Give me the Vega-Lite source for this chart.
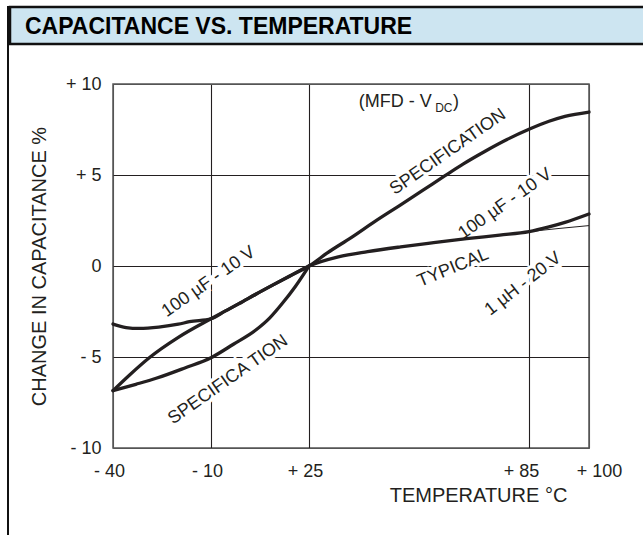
{
  "$schema": "https://vega.github.io/schema/vega-lite/v6.json",
  "padding": {"left": 7, "top": 5, "right": 0, "bottom": 0},
  "background": "white",
  "config": {"font": "Liberation Sans", "view": {"stroke": null}},
  "spacing": -3,
  "datasets": {
    "curves": [
      {"series": "spec_hi", "temp": -40, "cap": -6.85},
      {"series": "spec_hi", "temp": -35, "cap": -6.0},
      {"series": "spec_hi", "temp": -28.9, "cap": -5.04},
      {"series": "spec_hi", "temp": -20, "cap": -3.92},
      {"series": "spec_hi", "temp": -10, "cap": -2.9},
      {"series": "spec_hi", "temp": -5, "cap": -2.48},
      {"series": "spec_hi", "temp": 0, "cap": -2.07},
      {"series": "spec_hi", "temp": 6, "cap": -1.55},
      {"series": "spec_hi", "temp": 12, "cap": -1.05},
      {"series": "spec_hi", "temp": 18, "cap": -0.56},
      {"series": "spec_hi", "temp": 25, "cap": 0},
      {"series": "spec_hi", "temp": 30, "cap": 0.72},
      {"series": "spec_hi", "temp": 36.5, "cap": 1.56},
      {"series": "spec_hi", "temp": 43, "cap": 2.45},
      {"series": "spec_hi", "temp": 50, "cap": 3.36},
      {"series": "spec_hi", "temp": 56, "cap": 4.15},
      {"series": "spec_hi", "temp": 62, "cap": 4.95},
      {"series": "spec_hi", "temp": 67, "cap": 5.6},
      {"series": "spec_hi", "temp": 72.8, "cap": 6.28},
      {"series": "spec_hi", "temp": 79, "cap": 6.95},
      {"series": "spec_hi", "temp": 85, "cap": 7.51},
      {"series": "spec_hi", "temp": 90, "cap": 7.95},
      {"series": "spec_hi", "temp": 94, "cap": 8.22},
      {"series": "spec_hi", "temp": 100, "cap": 8.46},
      {"series": "typ", "temp": -40, "cap": -3.19},
      {"series": "typ", "temp": -36, "cap": -3.38},
      {"series": "typ", "temp": -32, "cap": -3.43},
      {"series": "typ", "temp": -26, "cap": -3.36},
      {"series": "typ", "temp": -20, "cap": -3.2},
      {"series": "typ", "temp": -16.6, "cap": -3.06},
      {"series": "typ", "temp": -10, "cap": -2.9},
      {"series": "typ", "temp": -5, "cap": -2.48},
      {"series": "typ", "temp": 0, "cap": -2.07},
      {"series": "typ", "temp": 6, "cap": -1.55},
      {"series": "typ", "temp": 12, "cap": -1.05},
      {"series": "typ", "temp": 18, "cap": -0.56},
      {"series": "typ", "temp": 25, "cap": 0},
      {"series": "typ", "temp": 33, "cap": 0.5},
      {"series": "typ", "temp": 41, "cap": 0.79},
      {"series": "typ", "temp": 50, "cap": 1.05},
      {"series": "typ", "temp": 59, "cap": 1.28},
      {"series": "typ", "temp": 68, "cap": 1.5},
      {"series": "typ", "temp": 77, "cap": 1.7},
      {"series": "typ", "temp": 85, "cap": 1.89},
      {"series": "typ", "temp": 90, "cap": 2.15},
      {"series": "typ", "temp": 94, "cap": 2.4},
      {"series": "typ", "temp": 100, "cap": 2.86},
      {"series": "spec_lo", "temp": -40, "cap": -6.85},
      {"series": "spec_lo", "temp": -33, "cap": -6.5},
      {"series": "spec_lo", "temp": -26.8, "cap": -6.17},
      {"series": "spec_lo", "temp": -18, "cap": -5.6},
      {"series": "spec_lo", "temp": -10, "cap": -5.04},
      {"series": "spec_lo", "temp": -2, "cap": -4.3},
      {"series": "spec_lo", "temp": 6, "cap": -3.52},
      {"series": "spec_lo", "temp": 11, "cap": -2.85},
      {"series": "spec_lo", "temp": 15.5, "cap": -2.05},
      {"series": "spec_lo", "temp": 20, "cap": -1.15},
      {"series": "spec_lo", "temp": 25, "cap": 0}
    ],
    "thin": [
      {"series": "typ_1uH", "temp": 77, "cap": 1.7},
      {"series": "typ_1uH", "temp": 85, "cap": 1.89},
      {"series": "typ_1uH", "temp": 100, "cap": 2.22}
    ],
    "labels35": [
      {"label": "100 µF - 10 V", "temp": -10.7, "cap": -0.88},
      {"label": "SPECIFICA TION", "temp": -3.9, "cap": -6.26},
      {"label": "SPECIFICATION", "temp": 62.9, "cap": 6.26},
      {"label": "100 µF - 10 V", "temp": 78.5, "cap": 3.41}
    ],
    "labelTyp": [
      {"label": "TYPICAL", "temp": 64.3, "cap": -0.11}
    ],
    "label1uH": [
      {"label": "1 µH - 20 V", "temp": 83.4, "cap": -0.99}
    ],
    "mfd": [{"label": "(MFD - V", "temp": 38.6, "cap": 8.74}],
    "mfdSub": [{"label": "DC", "temp": 59.4, "cap": 8.46}],
    "mfdEnd": [{"label": ")", "temp": 64.3, "cap": 8.74}]
  },
  "hconcat": [
    {
      "width": 0.01,
      "height": 528,
      "view": {"stroke": "#111111", "strokeWidth": 2},
      "data": {"values": []},
      "mark": "rect",
      "encoding": {}
    },
    {
      "spacing": 28,
      "vconcat": [
        {
          "width": 634,
          "height": 37,
          "view": {"fill": "#cde5f1", "stroke": "#111111", "strokeWidth": 2.5, "strokeDash": [634, 37, 671, 1]},
          "title": {
            "text": "CAPACITANCE VS. TEMPERATURE",
            "anchor": "start",
            "frame": "group",
            "orient": "top",
            "offset": -50,
            "dx": 15,
            "fontSize": 23,
            "fontWeight": 900,
            "color": "#000000",
            "baseline": "alphabetic"
          },
          "data": {"values": [{"heading": "CAPACITANCE VS. TEMPERATURE"}]},
          "mark": {"type": "rect", "opacity": 0},
          "encoding": {}
        },
        {
          "spacing": 17,
          "hconcat": [
            {
              "width": 0.01,
              "height": 1,
              "data": {"values": []},
              "mark": "rect",
              "encoding": {}
            },
            {
              "width": 476,
              "height": 364,
              "view": {"stroke": "#555555", "strokeWidth": 1.5},
              "encoding": {
                "x": {
                  "field": "temp",
                  "type": "quantitative",
                  "scale": {"domain": [-40, -10, 25, 85, 100], "range": [0, 98, 196, 416, 476], "nice": false, "zero": false},
                  "axis": {
                    "values": [-40, -10, 25, 85, 100],
                    "title": "TEMPERATURE °C",
                    "grid": true,
                    "gridColor": {"condition": {"test": "datum.value == -40 || datum.value == 100", "value": "#555555"}, "value": "#231f20"},
                    "gridWidth": 1.1,
                    "domain": false,
                    "ticks": false,
                    "tickSize": 0,
                    "labelPadding": 14,
                    "labelFontSize": 18,
                    "labelColor": "#231f20",
                    "labelFlush": false,
                    "labelOverlap": false,
                    "labelBound": false,
                    "labelExpr": "datum.value > 0 ? '+ ' + datum.value : (datum.value < 0 ? '- ' + abs(datum.value) : '0')",
                    "labelOffset": {"condition": [{"test": "datum.value == 100", "value": 10}, {"test": "datum.value == 85", "value": -8}], "value": -4},
                    "titleFontSize": 20,
                    "titleFontWeight": "normal",
                    "titleColor": "#231f20",
                    "titleX": 365,
                    "titleY": 53,
                    "titleAlign": "center",
                    "titleBaseline": "alphabetic"
                  }
                },
                "y": {
                  "field": "cap",
                  "type": "quantitative",
                  "scale": {"domain": [-10, 10], "nice": false, "zero": false},
                  "axis": {
                    "values": [-10, -5, 0, 5, 10],
                    "title": "CHANGE IN CAPACITANCE %",
                    "grid": true,
                    "gridColor": {"condition": {"test": "abs(datum.value) == 10", "value": "#555555"}, "value": "#231f20"},
                    "gridWidth": 1.1,
                    "domain": false,
                    "ticks": false,
                    "tickSize": 0,
                    "labelPadding": 12,
                    "labelFontSize": 18,
                    "labelColor": "#231f20",
                    "labelFlush": false,
                    "labelOverlap": false,
                    "labelBound": false,
                    "labelExpr": "datum.value > 0 ? '+ ' + datum.value : (datum.value < 0 ? '- ' + abs(datum.value) : '0')",
                    "titleFontSize": 20,
                    "titleFontWeight": "normal",
                    "titleColor": "#231f20",
                    "titlePadding": 16
                  }
                }
              },
              "layer": [
                {
                  "data": {"name": "labels35"},
                  "mark": {"type": "text", "angle": -35, "fontSize": 18, "align": "center", "baseline": "middle", "fill": "white", "stroke": "white", "strokeWidth": 7},
                  "encoding": {"text": {"field": "label"}}
                },
                {
                  "data": {"name": "labelTyp"},
                  "mark": {"type": "text", "angle": -22.5, "fontSize": 18, "align": "center", "baseline": "middle", "fill": "white", "stroke": "white", "strokeWidth": 7},
                  "encoding": {"text": {"field": "label"}}
                },
                {
                  "data": {"name": "label1uH"},
                  "mark": {"type": "text", "angle": -38, "fontSize": 18, "align": "center", "baseline": "middle", "fill": "white", "stroke": "white", "strokeWidth": 7},
                  "encoding": {"text": {"field": "label"}}
                },
                {
                  "data": {"name": "curves"},
                  "mark": {"type": "line", "interpolate": "monotone", "strokeWidth": 3.3, "color": "#231f20", "strokeCap": "round"},
                  "encoding": {"detail": {"field": "series"}}
                },
                {
                  "data": {"name": "thin"},
                  "mark": {"type": "line", "interpolate": "monotone", "strokeWidth": 1, "color": "#231f20"},
                  "encoding": {"detail": {"field": "series"}}
                },
                {
                  "data": {"name": "labels35"},
                  "mark": {"type": "text", "angle": -35, "fontSize": 18, "align": "center", "baseline": "middle", "color": "#231f20"},
                  "encoding": {"text": {"field": "label"}}
                },
                {
                  "data": {"name": "labelTyp"},
                  "mark": {"type": "text", "angle": -22.5, "fontSize": 18, "align": "center", "baseline": "middle", "color": "#231f20"},
                  "encoding": {"text": {"field": "label"}}
                },
                {
                  "data": {"name": "label1uH"},
                  "mark": {"type": "text", "angle": -38, "fontSize": 18, "align": "center", "baseline": "middle", "color": "#231f20"},
                  "encoding": {"text": {"field": "label"}}
                },
                {
                  "data": {"name": "mfd"},
                  "mark": {"type": "text", "fontSize": 18, "align": "left", "baseline": "alphabetic", "color": "#231f20"},
                  "encoding": {"text": {"field": "label"}}
                },
                {
                  "data": {"name": "mfdSub"},
                  "mark": {"type": "text", "fontSize": 12, "align": "left", "baseline": "alphabetic", "color": "#231f20"},
                  "encoding": {"text": {"field": "label"}}
                },
                {
                  "data": {"name": "mfdEnd"},
                  "mark": {"type": "text", "fontSize": 18, "align": "left", "baseline": "alphabetic", "color": "#231f20"},
                  "encoding": {"text": {"field": "label"}}
                }
              ]
            }
          ]
        }
      ]
    }
  ]
}
